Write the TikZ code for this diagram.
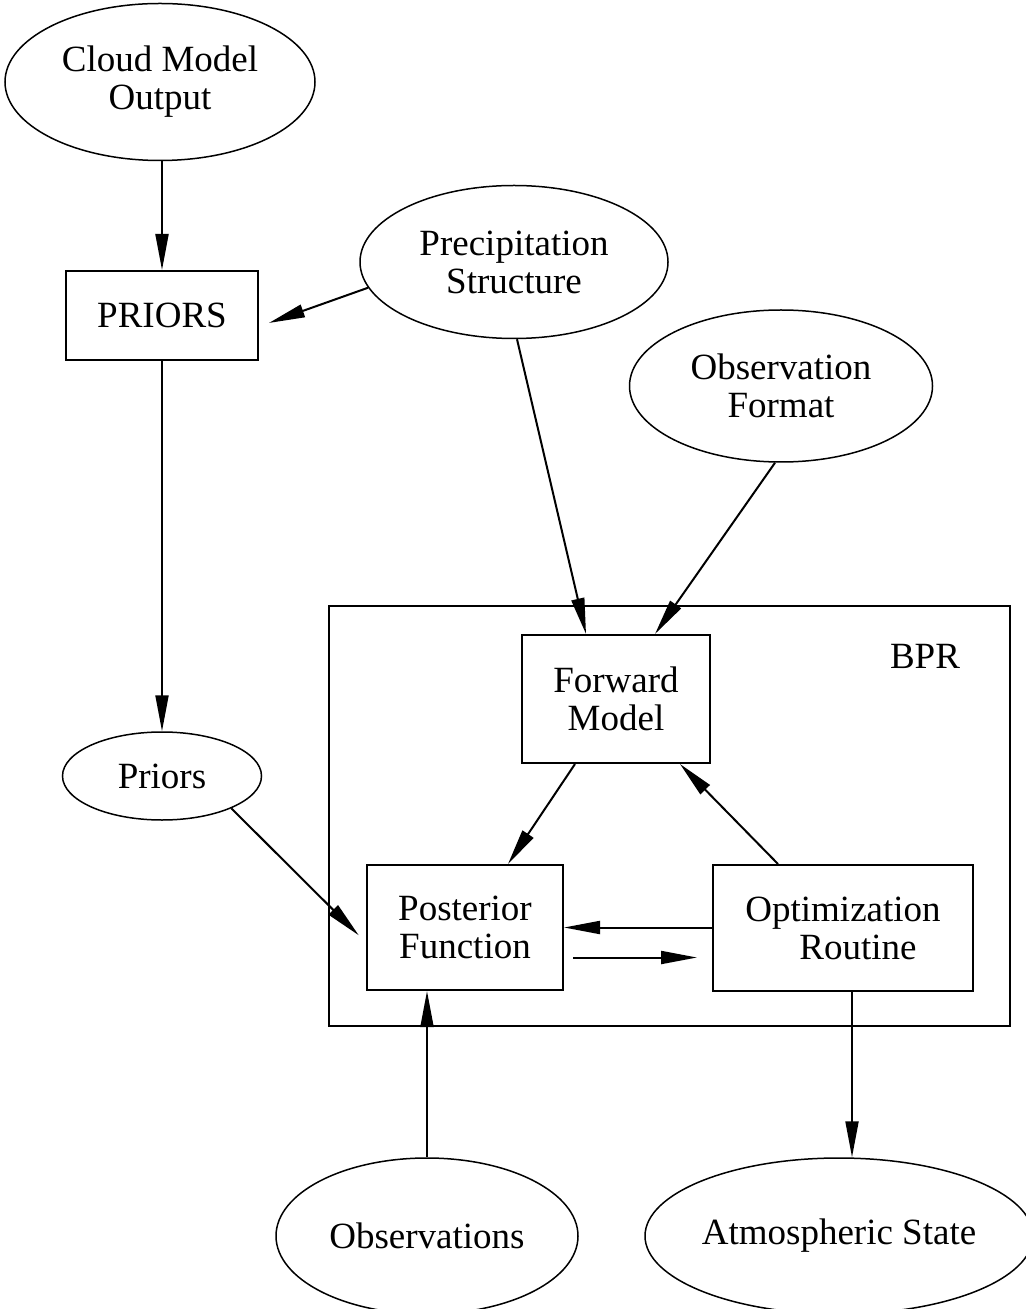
\documentclass[tikz,border=0pt]{standalone}
\usepackage{fontspec}
\setmainfont{Liberation Serif}
\usetikzlibrary{shapes.geometric,arrows.meta}
\begin{document}
\begin{tikzpicture}[x=0.5pt,y=-0.5pt,
  every node/.style={font=\fontsize{18.5}{19}\selectfont, align=center, inner sep=0pt},
  oval/.style={ellipse, draw, line width=0.75pt},
  blk/.style={rectangle, draw, line width=1pt},
  arr/.style={line width=1pt, -{Triangle[length=18pt,width=6.5pt]}}]
\useasboundingbox (0,0) rectangle (1025,1309);

% outer BPR frame
\node[blk, minimum width=340.5pt, minimum height=210pt] (bpr) at (669.5,816) {};
\node at (925,656) {BPR};

% inputs and outputs
\node[oval, minimum width=155pt, minimum height=78.5pt] (cloud) at (160,82) {Cloud Model\\Output};
\node[oval, minimum width=154pt, minimum height=76.5pt] (precip) at (514,262) {Precipitation\\Structure};
\node[oval, minimum width=151.5pt, minimum height=76pt] (obsfmt) at (781,386) {Observation\\Format};
\node[oval, minimum width=99.5pt, minimum height=44pt] (priorsE) at (162,776) {Priors};
\node[oval, minimum width=151pt, minimum height=78pt] (obs) at (427,1236) {Observations};
\node[oval, minimum width=184pt, minimum height=78pt] (atm) at (839,1236) {Atmospheric State};

% processing blocks
\node[blk, minimum width=96pt, minimum height=44.5pt] (pbox) at (162,315.5) {PRIORS};
\node[blk, minimum width=94pt, minimum height=64pt] (fwd) at (616,699) {Forward\\Model};
\node[blk, minimum width=98pt, minimum height=62.5pt] (post) at (465,927.5) {Posterior\\Function};
\node[blk, minimum width=130pt, minimum height=63pt] (opt) at (843,928) {Optimization\\\hspace*{15pt}Routine};

% attachment points on the blocks
\coordinate (postlow) at ([yshift=-15pt]post.east);
\coordinate (optlow) at (opt.west |- postlow);
\coordinate (postbot) at ([xshift=-19pt]post.south);
\coordinate (optbot) at ([xshift=4.5pt]opt.south);

% connectors
\draw[arr] (pbox.north |- cloud.south) -- (pbox.north);
\draw[arr, shorten >=5.3pt] (precip.190) -- ([yshift=-5.5pt]pbox.east);
\draw[arr] (pbox.south) -- (priorsE.north);
\draw[arr] ([xshift=1.5pt]precip.south) -- ([xshift=-15pt]fwd.north);
\draw[arr] ([xshift=-3pt]obsfmt.south) -- ([xshift=19.5pt]fwd.north);
\draw[arr] ([xshift=-20.5pt]fwd.south) -- ([xshift=21.5pt]post.north);
\draw[arr] ([xshift=-32.5pt]opt.north) -- ([xshift=32pt]fwd.south);
\draw[arr] (opt.west |- post.east) -- (post.east);
\draw[arr, shorten <=4.5pt, shorten >=7.5pt] (postlow) -- (optlow);
\draw[arr, shorten >=5.1pt] (priorsE.-25) -- ([yshift=-7.5pt]post.west);
\draw[arr] (postbot |- obs.north) -- (postbot);
\draw[arr] (optbot) -- (optbot |- atm.north);
\end{tikzpicture}
\end{document}
